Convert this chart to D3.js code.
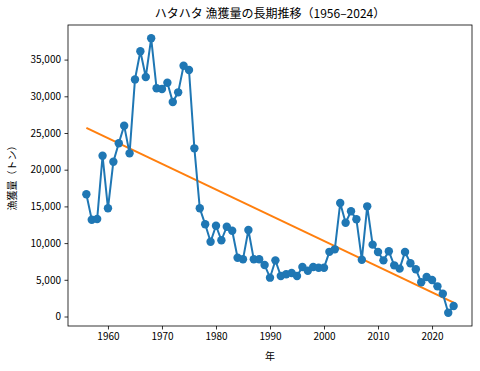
<!DOCTYPE html>
<html>
<head>
<meta charset="utf-8">
<script src="https://cdn.jsdelivr.net/npm/d3@7"></script>
<style>
  body { margin: 0; background: #fff; }
  text { font-family: "Noto Sans CJK JP", "DejaVu Sans", sans-serif; fill: #000; }
</style>
</head>
<body>
<svg id="chart" width="480" height="371"></svg>
<script>
var years = d3.range(1956, 2025);
var catch_t = [16650, 13190, 13280, 21900, 14740, 21090, 23600, 26000, 22230, 32300,
    36130, 32630, 37900, 31090, 30990, 31850, 29220, 30540, 34170, 33580,
    22910, 14740, 12560, 10190, 12370, 10380, 12230, 11690, 8010, 7790,
    11780, 7790, 7790, 7020, 5290, 7650, 5520, 5750, 5930, 5520,
    6740, 6240, 6740, 6650, 6650, 8810, 9150, 15460, 12780, 14330,
    13240, 7740, 15010, 9790, 8790, 7650, 8880, 6970, 6520, 8790,
    7250, 6430, 4660, 5380, 4970, 4110, 3110, 520, 1430];
var trendYears = [1956, 2024];
var trendVals = [25700, 1880];
var yTicks = [0, 5000, 10000, 15000, 20000, 25000, 30000, 35000];
var xTicks = [1960, 1970, 1980, 1990, 2000, 2010, 2020];

var svg = d3.select('#chart');
var mLeft = 68, mRight = 472, mTop = 25, mBottom = 326;

var x = d3.scaleLinear().domain([1952.6, 2027.4]).range([mLeft, mRight]);
var y = d3.scaleLinear().domain([-1294, 39714]).range([mBottom, mTop]);

var data = years.map(function(d, i) { return {year: d, v: catch_t[i]} });

// axes
var xAxis = svg.append('g')
    .attr('transform', 'translate(0,' + mBottom + ')')
    .call(d3.axisBottom(x).tickValues(xTicks).tickFormat(d3.format('d')).tickSize(3.5).tickPadding(3.5));
var yAxis = svg.append('g')
    .attr('transform', 'translate(' + mLeft + ',0)')
    .call(d3.axisLeft(y).tickValues(yTicks).tickFormat(d3.format(',')).tickSize(3.5).tickPadding(3.5));
[xAxis, yAxis].forEach(function(a) {
    a.select('.domain').remove();
    a.selectAll('line').attr('stroke', '#000').attr('stroke-width', 0.8);
    a.selectAll('text').style('font-size', '10px').attr('fill', '#000');
});

// trend line
svg.append('path')
    .datum(trendYears.map(function(d, i) { return [d, trendVals[i]] }))
    .attr('fill', 'none')
    .attr('stroke', '#ff7f0e')
    .attr('stroke-width', 2)
    .attr('d', d3.line().x(function(d) { return x(d[0]) }).y(function(d) { return y(d[1]) }));

// series
svg.append('path')
    .datum(data)
    .attr('fill', 'none')
    .attr('stroke', '#1f77b4')
    .attr('stroke-width', 2)
    .attr('d', d3.line().x(function(d) { return x(d.year) }).y(function(d) { return y(d.v) }));

svg.selectAll('circle.pt')
    .data(data)
    .enter()
    .append('circle')
        .attr('class', 'pt')
        .attr('cx', function(d) { return x(d.year) })
        .attr('cy', function(d) { return y(d.v) })
        .attr('r', 4.2)
        .attr('fill', '#1f77b4');

// frame
svg.append('rect')
    .attr('x', mLeft).attr('y', mTop)
    .attr('width', mRight - mLeft).attr('height', mBottom - mTop)
    .attr('fill', 'none').attr('stroke', '#000').attr('stroke-width', 0.8);

svg.append('text')
    .text('ハタハタ 漁獲量の長期推移（1956–2024）')
    .attr('x', (mLeft + mRight) / 2).attr('y', 18)
    .style('text-anchor', 'middle').style('font-size', '12px');

svg.append('text')
    .text('年')
    .attr('x', (mLeft + mRight) / 2).attr('y', 360)
    .style('text-anchor', 'middle').style('font-size', '10px');

svg.append('text')
    .text('漁獲量（トン）')
    .attr('transform', 'translate(16,' + (mTop + mBottom) / 2 + ') rotate(-90)')
    .style('text-anchor', 'middle').style('font-size', '10px');
</script>
</body>
</html>
